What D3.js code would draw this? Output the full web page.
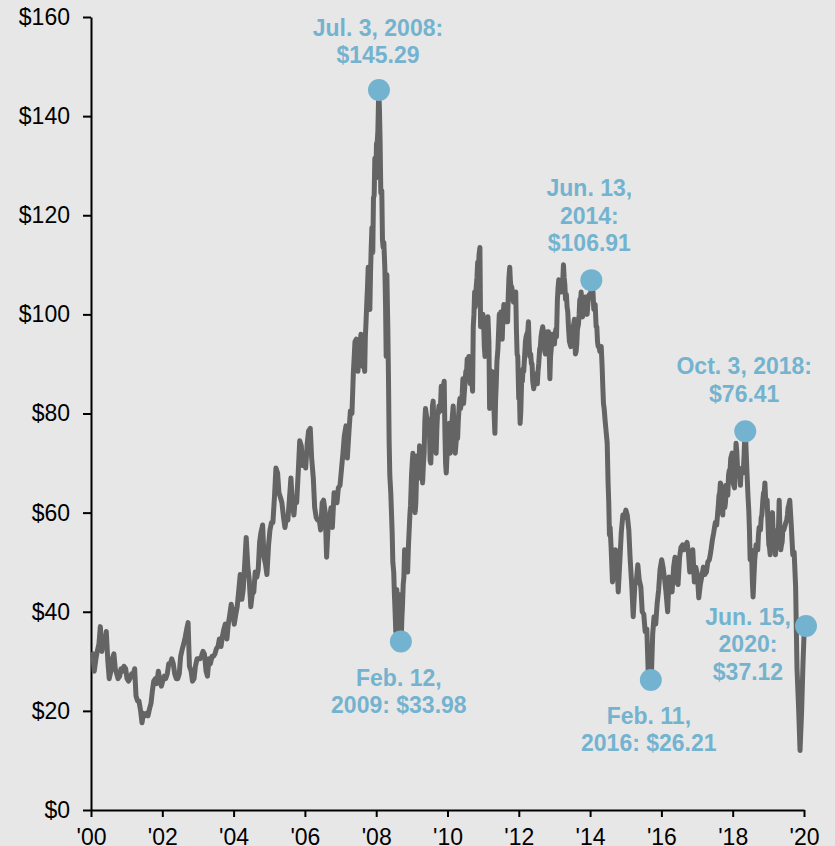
<!DOCTYPE html>
<html><head><meta charset="utf-8">
<script src="https://cdn.jsdelivr.net/npm/d3@7"></script>
<style>
html,body{margin:0;padding:0;background:#e7e7e7;}
svg{display:block;}
</style></head><body>
<svg id="chart" width="835" height="846"></svg>
<script>
// WTI spot price readings, US$ per barrel.
// Years with 2 readings per month: 1st and 15th. Years with 4 readings per month: 1st, 8th, 15th, 22nd.
const prices2000 = [31.5,28.0,30.5,32.0,33.5,37.0,32.0,34.0,33.8,36.0,30.0,26.5]; // from July
const prices2001 = [28.0,30.5,31.5,28.5,27.5,26.5,27.0,28.5,28.0,29.0,28.5,26.5,26.0,26.5,27.5,27.0,28.5,23.0,22.0,22.0,20.0,17.6,19.5,19.0];
const prices2002 = [19.5,19.0,20.5,21.5,24.0,26.0,26.5,25.5,28.0,26.5,25.0,26.0,27.0,26.5,27.5,29.5,29.5,30.5,29.5,27.5,26.5,26.5,27.5,31.0];
const prices2003 = [32.5,33.5,35.0,36.5,37.8,29.0,28.0,26.0,26.5,29.0,30.5,30.5,30.5,31.0,32.0,31.5,28.0,27.0,30.5,29.5,31.0,31.0,31.5,32.5];
const prices2004 = [33.0,34.5,33.0,35.0,36.5,37.5,34.5,37.5,39.5,41.5,40.0,37.5,39.5,41.0,44.5,47.5,42.5,44.5,50.0,55.0,49.0,46.5,41.0,43.5];
const prices2005 = [44.0,48.0,47.0,48.5,54.0,56.0,57.5,51.0,49.5,47.5,53.5,56.5,58.0,58.0,63.5,69.0,68.0,64.0,63.0,62.0,59.0,57.0,59.0,58.5];
const prices2006 = [63.0,67.0,61.5,59.5,63.0,62.0,68.5,74.5,73.5,69.5,71.5,69.0,74.0,76.5,77.0,71.0,67.0,61.0,59.0,58.5,58.5,56.5,62.0,62.5];
const prices2007 = [60.0,51.0,58.0,59.0,61.0,57.0,64.0,63.5,62.0,65.0,65.5,68.5,72.0,75.5,77.5,71.0,76.5,80.5,80.0,88.0,94.5,95.0,88.5,92.0];
const prices2008 = [96.0,95.5,91.0,89.5, 90.5,88.5,95.5,98.5, 102.5,105.5,109.5,101.5, 101.0,108.5,113.5,117.5,
                    112.5,123.5,124.0,131.5, 127.5,134.5,134.5,137.0, 145.3,141.5,134.5,124.5, 125.0,115.0,113.5,114.5,
                    109.5,102.5,91.5,108.0, 98.0,88.0,74.5,67.5, 64.0,60.0,56.0,50.0, 48.0,43.5,40.0,36.0];
const prices2009 = [44.5,41.0,35.5,43.5, 40.0,39.5,34.0,38.5, 41.5,45.5,47.0,52.5, 48.5,50.5,49.5,48.0,
                    53.5,56.5,59.5,61.5, 67.5,70.0,72.0,69.5, 69.0,60.0,62.0,67.0, 71.5,70.5,67.0,73.5,
                    68.0,71.0,72.5,66.0, 70.0,72.0,78.5,81.0, 79.5,79.0,77.5,76.0, 76.5,70.5,70.0,74.5];
const prices2010 = [81.5,82.5,78.0,74.5, 73.0,72.0,77.0,80.0, 80.0,81.5,81.0,80.5, 85.5,84.5,83.0,85.5,
                    86.5,76.5,70.0,68.0, 72.5,76.0,77.5,78.0, 72.0,76.0,77.0,79.0, 81.5,78.0,75.5,72.0,
                    74.5,76.5,75.0,78.5, 81.5,83.0,81.0,82.0, 84.0,87.0,82.0,84.0, 86.5,88.5,88.0,91.0];
const prices2011 = [91.0,91.5,89.5,86.0, 90.5,86.5,84.5,97.5, 100.0,104.5,101.5,105.0, 107.5,110.5,108.0,112.0,
                    113.5,97.5,98.0,99.5, 100.0,98.5,93.5,91.5, 96.5,96.0,97.5,99.5, 94.5,81.0,87.5,85.5,
                    88.5,88.0,85.0,80.5, 76.0,82.5,86.0,90.5, 93.0,96.5,100.0,98.0, 100.5,99.5,95.0,99.5];
const prices2012 = [102.0,101.5,100.0,98.5, 98.5,98.5,104.0,107.5, 109.5,106.5,105.5,105.5, 103.0,102.5,104.0,103.5,
                    104.5,97.0,92.0,91.5, 83.0,84.0,78.0,80.5, 87.0,86.5,89.0,88.5, 92.0,94.5,95.5,96.0,
                    96.5,98.5,94.0,91.5, 92.0,90.0,90.0,86.5, 85.0,86.0,87.0,88.0, 87.5,86.0,88.5,90.0];
const prices2013 = [93.0,93.5,95.5,96.5, 97.5,96.5,95.0,92.5, 92.0,92.5,93.5,96.5, 96.5,92.5,87.0,91.5,
                    93.5,96.0,95.0,94.0, 94.0,96.0,97.0,95.5, 103.0,105.5,107.0,105.5, 106.0,104.5,107.0,105.5,
                    110.0,107.5,106.0,103.0, 104.0,101.5,100.5,97.5, 94.5,94.0,93.5,95.5, 96.5,97.5,98.0,99.0];
const prices2014 = [92.0,92.5,94.0,97.0, 98.0,100.0,103.0,102.5, 104.5,100.0,99.5,100.5, 103.0,103.5,103.5,101.5,
                    100.0,102.0,103.5,104.0, 104.0,104.5,106.9,106.5, 104.0,101.0,101.0,102.0, 97.5,97.5,94.5,93.5,
                    93.5,92.5,92.5,93.5, 89.5,85.5,82.0,81.0, 78.5,77.0,75.5,74.0, 66.0,62.0,55.5,57.0];
const prices2015 = [53.0,46.0,48.5,52.5,50.0,44.0,50.5,56.0,59.5,59.0,60.5,59.5,56.5,50.5,45.0,39.0,45.5,46.0,49.5,46.5,45.0,40.0,39.5,36.0];
const prices2016 = [36.5,28.0,31.5,26.2,35.5,39.0,37.5,41.5,44.5,48.5,50.5,49.0,46.5,44.0,40.0,47.0,45.0,44.0,49.0,51.0,46.0,45.5,51.0,53.0];
const prices2017 = [53.5,52.5,53.5,54.0,52.0,48.0,51.0,52.5,46.0,49.0,47.5,42.8,45.5,47.0,49.0,47.5,48.0,50.0,50.5,52.0,54.5,56.0,58.0,57.5];
const prices2018 = [61.5,63.5,64.0,66.0, 65.5,61.0,59.5,63.5, 61.5,61.0,62.0,65.5, 64.5,63.5,67.5,68.5,
                    68.5,71.0,71.5,72.0, 66.0,65.5,65.0,68.5, 74.0,72.5,69.5,68.5, 68.0,67.5,65.5,68.5,
                    69.0,68.0,69.0,72.0, 76.4,74.5,71.0,67.5, 63.0,60.5,56.5,50.5, 52.5,51.0,46.0,43.0];
const prices2019 = [47.5,50.5,52.0,53.5, 53.5,52.5,55.5,57.0, 56.5,56.5,59.0,59.5, 62.5,64.0,64.0,66.0,
                    62.0,62.0,62.5,58.5, 53.5,53.0,51.5,57.5, 58.0,60.0,56.0,56.5, 54.0,51.5,55.0,55.0,
                    56.0,57.0,62.5,57.0, 52.5,53.5,54.0,56.5, 56.5,57.0,57.5,58.0, 58.5,59.5,61.0,61.5];
const prices2020 = [62.5,58.0,51.5,52.0,45.0,28.5,20.3,12.0,19.8,29.4,38.5,37.12]; // to June 15

const seriesYears = [2000,2001,2002,2003,2004,2005,2006,2007,2008,2009,2010,2011,2012,2013,2014,2015,2016,2017,2018,2019,2020];
const seriesStartMonth = [6,0,0,0,0,0,0,0,0,0,0,0,0,0,0,0,0,0,0,0,0];
const readingsPerMonth = [2,2,2,2,2,2,2,2,4,4,4,4,4,4,4,2,2,2,4,4,2];
const seriesValues = [prices2000,prices2001,prices2002,prices2003,prices2004,prices2005,prices2006,prices2007,prices2008,prices2009,prices2010,prices2011,prices2012,prices2013,prices2014,prices2015,prices2016,prices2017,prices2018,prices2019,prices2020];
const readingDays = {2: [1,15], 4: [1,8,15,22]};

// Annotated points
const annDates = [[2008,6,3],[2009,1,12],[2014,5,13],[2016,1,11],[2018,9,3],[2020,5,15]];
const annValues = [145.29, 33.98, 106.91, 26.21, 76.41, 37.12];
const annLabels = [
  ["Jul. 3, 2008:", "$145.29"],
  ["Feb. 12,", "2009: $33.98"],
  ["Jun. 13,", "2014:", "$106.91"],
  ["Feb. 11,", "2016: $26.21"],
  ["Oct. 3, 2018:", "$76.41"],
  ["Jun. 15,", "2020:", "$37.12"]
];

const yTickValues = [0,20,40,60,80,100,120,140,160];
const xTickLabels = ["'00","'02","'04","'06","'08","'10","'12","'14","'16","'18","'20"];

// ---------- layout (kept separate from data) ----------
const labelOffsets = [[-1,-54],[-2,44],[-2,-84],[-2,43.5],[-1,-57],[-58,-1.5]];
const lineGap = 27.5;
const BLUE = "#74b3cf";
const LINE = "#646464";
const FONT = "Arial, 'Liberation Sans', Helvetica, sans-serif";

const svg = d3.select("#chart");
svg.append("rect").attr("width",835).attr("height",846).attr("fill","#e7e7e7");

const x = d3.scaleTime()
  .domain([new Date(2000,5,22), new Date(2020,5,15)])
  .range([92, 806]);
const y = d3.scaleLinear().domain([0,160]).range([810,17]);
const xTick = d3.scalePoint().domain(xTickLabels).range([91, 804]);

const series = [];
seriesYears.forEach((yr, k) => {
  const n = readingsPerMonth[k];
  const days = readingDays[n];
  seriesValues[k].forEach((v, i) => {
    series.push({date: new Date(yr, seriesStartMonth[k] + Math.floor(i/n), days[i % n]), value: v});
  });
});

// axes
const yAxis = svg.append("g").attr("transform","translate(91,0)")
  .call(d3.axisLeft(y).tickValues(yTickValues).tickFormat(d => "$" + d)
        .tickSize(8).tickSizeOuter(0).tickPadding(13));
const xAxis = svg.append("g").attr("transform","translate(0,810)")
  .call(d3.axisBottom(xTick).tickSize(7).tickSizeOuter(0).tickPadding(12));
[yAxis, xAxis].forEach(g => {
  g.selectAll("path.domain").attr("stroke","#000").attr("stroke-width",2);
  g.selectAll(".tick line").attr("stroke","#000").attr("stroke-width",2);
  g.selectAll(".tick text").attr("fill","#000").style("font-family",FONT).style("font-size","23px");
});

// price line
const line = d3.line().x(d => x(d.date)).y(d => y(d.value));
svg.append("path").datum(series)
  .attr("d", line).attr("fill","none")
  .attr("stroke", LINE).attr("stroke-width", 5)
  .attr("stroke-linejoin","round").attr("stroke-linecap","round");

// annotations
const anns = annDates.map((d,i) => ({date: new Date(d[0], d[1], d[2]), value: annValues[i], lines: annLabels[i], off: labelOffsets[i]}));
svg.selectAll("circle.ann").data(anns).join("circle")
  .attr("class","ann")
  .attr("cx", d => x(d.date)).attr("cy", d => y(d.value))
  .attr("r", 11).attr("fill", BLUE);

anns.forEach(a => {
  const cx = x(a.date) + a.off[0];
  const by = y(a.value) + a.off[1];
  const t = svg.append("text")
    .attr("text-anchor","middle")
    .attr("fill", BLUE)
    .style("font-family", FONT).style("font-size","23px").style("font-weight","bold");
  a.lines.forEach((s, j) => {
    t.append("tspan").attr("x", cx).attr("y", by + j*lineGap).text(s);
  });
});
</script>
</body></html>
